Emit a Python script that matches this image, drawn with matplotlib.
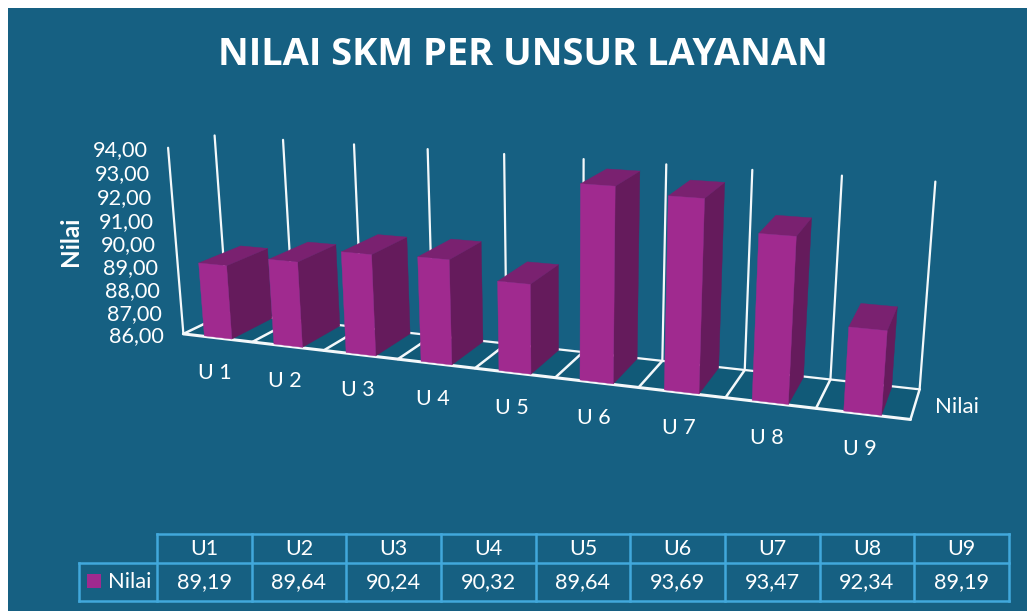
import numpy as np
import matplotlib
matplotlib.use("Agg")
import matplotlib.pyplot as plt
from matplotlib.patches import Polygon, Rectangle

# ---- data ----
title = "NILAI SKM PER UNSUR LAYANAN"
axis_labels = ["U 1", "U 2", "U 3", "U 4", "U 5", "U 6", "U 7", "U 8", "U 9"]
table_labels = ["U1", "U2", "U3", "U4", "U5", "U6", "U7", "U8", "U9"]
series_name = "Nilai"
values = [89.19, 89.64, 90.24, 90.32, 89.64, 93.69, 93.47, 92.34, 89.19]
value_ticks = [86, 87, 88, 89, 90, 91, 92, 93, 94]

# ---- style ----
BG = "#166082"; FLOOR = "#115A78"; WHITE = "#FFFFFF"; GRID = "#F4F8FA"
FRONT = "#A02A8F"; SIDE = "#651B5C"; TOP = "#7A2170"; TBL = "#41A8DC"
plt.rcParams["font.family"] = ["Lato", "DejaVu Sans"]

W, H = 1027, 611
fig = plt.figure(figsize=(W / 100, H / 100), dpi=100, facecolor="white")
ax = fig.add_axes([0, 0, 1, 1])
ax.set_xlim(0, W); ax.set_ylim(H, 0); ax.axis("off")
ax.add_patch(Rectangle((8, 8), W, H, fc=BG, ec="none", zorder=0))

# ---- 3-D scale: camera calibrated from the frame of the plot box ----
ZMIN, ZMAX = value_ticks[0], value_ticks[-1]
n = len(values)
calib = [
    (0, 0, 0, 182, 335), (1, 0, 0, 253, 342), (2, 0, 0, 324, 350), (3, 0, 0, 398, 359),
    (4, 0, 0, 476, 368), (5, 0, 0, 555, 377), (6, 0, 0, 638, 387), (7, 0, 0, 726, 397),
    (8, 0, 0, 816, 408), (9, 0, 0, 910, 421), (0, 0, 1, 168, 148),
    (6, 1, 0, 662, 360), (7, 1, 0, 745, 370), (8, 1, 0, 831, 380), (9, 1, 0, 919, 390),
    (0, 1, 1, 215, 135), (1, 1, 1, 283, 140), (2, 1, 1, 354, 145), (3, 1, 1, 428, 149),
    (4, 1, 1, 504, 154), (5, 1, 1, 583, 159), (6, 1, 1, 666, 164), (7, 1, 1, 752, 170),
    (8, 1, 1, 842, 175), (9, 1, 1, 936, 182),
]
A, b = [], []
for u, d, z, x, y in calib:
    A.append([u, d, z, 1, 0, 0, 0, 0, -x * u, -x * d, -x * z]); b.append(x)
    A.append([0, 0, 0, 0, u, d, z, 1, -y * u, -y * d, -y * z]); b.append(y)
P = np.append(np.linalg.lstsq(np.array(A, float), np.array(b, float), rcond=None)[0], 1).reshape(3, 4)


def project(u, d, value):
    h = P @ np.array([u, d, (value - ZMIN) / (ZMAX - ZMIN), 1.0])
    return h[0] / h[2], h[1] / h[2]


def face(pts, color, z):
    ax.add_patch(Polygon([project(*p) for p in pts], closed=True, fc=color, ec=color,
                         lw=0.3, zorder=z, joinstyle="round"))


def seg(a, b, lw, z=2):
    pa, pb = project(*a), project(*b)
    ax.plot([pa[0], pb[0]], [pa[1], pb[1]], color=GRID, lw=lw, zorder=z, solid_capstyle="round")


# floor and frame
face([(0, 0, ZMIN), (n, 0, ZMIN), (n, 1, ZMIN), (0, 1, ZMIN)], FLOOR, 1)
for i in range(n + 1):
    seg((i, 1, ZMIN), (i, 1, ZMAX), 1.6)
    seg((i, 0, ZMIN), (i, 1, ZMIN), 1.8)
seg((0, 0, ZMIN), (0, 0, ZMAX), 1.6)
seg((0, 1, ZMIN), (n, 1, ZMIN), 1.6)
seg((0, 0, ZMIN), (n, 0, ZMIN), 2.2, z=2.5)

# bars
U0, U1, D0, D1 = 0.295, 0.695, 0.02, 0.97
for i, v in enumerate(values):
    z = 3 + i * 0.1
    l, r = i + U0, i + U1
    face([(r, D0, ZMIN), (r, D1, ZMIN), (r, D1, v), (r, D0, v)], SIDE, z)
    face([(l, D0, v), (r, D0, v), (r, D1, v), (l, D1, v)], TOP, z + 0.01)
    face([(l, D0, ZMIN), (r, D0, ZMIN), (r, D0, v), (l, D0, v)], FRONT, z + 0.02)

# title and axis text
ax.text(523, 55, title, color=WHITE, fontsize=27.4, fontweight="bold", family=["Open Sans", "DejaVu Sans"],
        ha="center", va="center", zorder=5)
for t in value_ticks:
    x, y = project(0, 0, t)
    ax.text(x - 20, y + 2.5, f"{t:.2f}".replace(".", ","), color=WHITE, fontsize=15.6,
            ha="right", va="center", zorder=5)
for i, lab in enumerate(axis_labels):
    x, y = project(i + 0.5, 0, ZMIN)
    ax.text(x - 3, y + 35, lab, color=WHITE, fontsize=15.5, ha="center", va="center", zorder=5)
ax.text(935, 407, series_name, color=WHITE, fontsize=16, ha="left", va="center", zorder=5)
ax.text(71, 241, series_name, color=WHITE, fontsize=17.5, fontweight="bold", rotation=90,
        ha="center", va="center", zorder=5)

# data table
edges = np.linspace(157, 1009, n + 1)
y0, y1, y2 = 534, 563, 601
LEFT = 79
tw = 1.8
ax.plot([edges[0], edges[-1]], [y0, y0], color=TBL, lw=tw, zorder=6)
ax.plot([LEFT, edges[-1]], [y1, y1], color=TBL, lw=tw, zorder=6)
ax.plot([LEFT, edges[-1]], [y2, y2], color=TBL, lw=tw, zorder=6)
ax.plot([LEFT, LEFT], [y1, y2], color=TBL, lw=tw, zorder=6)
for e in edges:
    ax.plot([e, e], [y0, y2], color=TBL, lw=tw, zorder=6)
for i in range(n):
    cx = (edges[i] + edges[i + 1]) / 2
    ax.text(cx, (y0 + y1) / 2 + 0.5, table_labels[i], color=WHITE, fontsize=15.5, ha="center", va="center", zorder=7)
    ax.text(cx, (y1 + y2) / 2 + 0.5, f"{values[i]:.2f}".replace(".", ","), color=WHITE, fontsize=15.6,
            ha="center", va="center", zorder=7)
ax.add_patch(Rectangle((87, 574), 14, 14, fc=FRONT, ec="none", zorder=7))
ax.text(107.5, 582, series_name, color=WHITE, fontsize=15.8, ha="left", va="center", zorder=7)

fig.savefig("out.png", dpi=100, facecolor="white")
